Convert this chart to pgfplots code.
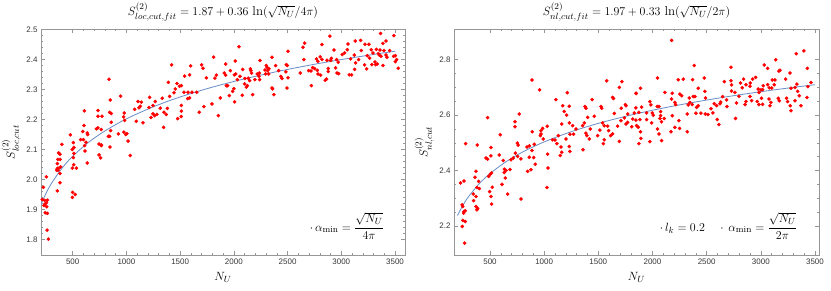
\documentclass[border=0pt]{standalone}
\usepackage{amsmath}
\usepackage{pgfplots}
\pgfplotsset{compat=1.18}
\usepackage{fontspec}
\setsansfont{Liberation Sans}
\definecolor{fitblue}{RGB}{110,145,200}
\definecolor{framegray}{RGB}{150,150,150}
\definecolor{ticklab}{RGB}{55,55,55}
\pgfplotsset{
  mmastyle/.style={
    scale only axis, width=364bp, height=226bp,
    axis line style={framegray, line width=0.6bp},
    tick style={framegray, line width=0.5bp},
    major tick length=4bp, minor tick length=2.2bp,
    tick align=inside,
    xtick pos=both, ytick pos=both,
    minor x tick num=4,
    tick label style={font=\sffamily\fontsize{8}{9}\selectfont, text=ticklab},
    /pgf/number format/assume math mode=true,
    /pgf/number format/1000 sep={},
    yticklabel style={/pgf/number format/fixed, /pgf/number format/fixed zerofill, /pgf/number format/precision=1},
    title style={at={(axis description cs:0.5,1.033)}, anchor=base, yshift=0pt, font=\fontsize{13}{15}\selectfont},
    xlabel style={at={(axis description cs:0.5,-0.097)}, anchor=center, font=\fontsize{13}{15}\selectfont},
    ylabel style={at={(axis description cs:-0.082,0.5)}, anchor=center, font=\fontsize{13}{15}\selectfont},
    clip=true,
  },
  pts/.style={only marks, mark=*, mark size=1.6bp, color=red, mark options={draw=red, fill=red}},
  fit/.style={no marks, color=fitblue, line width=0.85bp, smooth},
}
\begin{document}
\begin{tikzpicture}
\useasboundingbox (0,0) rectangle (831bp,291bp);
% ---------------- left ----------------
\begin{axis}[mmastyle,
  at={(41bp,36bp)}, anchor=south west,
  xmin=205, xmax=3593, ymin=1.748, ymax=2.502,
  xtick={500,1000,...,3500},
  ytick={1.8,1.9,2.0,2.1,2.2,2.3,2.4,2.5},
  minor y tick num=4,
  title={$S^{(2)}_{loc,cut,fit}=1.87+0.36\,\ln(\sqrt{N_U}/4\pi)$},
  xlabel={$N_U$},
  ylabel={$S^{(2)}_{loc,cut}$},
]
\addplot[pts] table {
227 1.974
255 2.009
217 1.933
239 1.930
264 1.931
255 1.922
239 1.917
233 1.913
258 1.909
245 1.889
264 1.887
261 1.831
273 1.801
357 1.962
382 1.989
363 2.031
351 2.031
382 2.020
357 2.053
357 2.037
369 2.037
388 2.042
363 2.067
382 2.067
369 2.089
382 2.084
400 2.117
497 2.038
534 2.038
509 2.049
506 2.073
512 2.087
497 2.100
512 2.107
506 2.123
500 1.957
524 1.950
497 1.940
636 2.055
611 2.113
614 2.095
624 2.124
745 2.118
766 2.113
769 2.115
745 2.082
760 2.072
847 2.108
1015 2.128
1036 2.080
1812 2.408
1421 2.382
1598 2.379
1700 2.382
1713 2.371
838 2.334
1542 2.345
1588 2.349
1744 2.339
1824 2.338
1837 2.348
1390 2.324
1471 2.320
1495 2.311
1511 2.313
1455 2.302
1536 2.291
1573 2.291
1610 2.291
1654 2.291
1588 2.272
1570 2.270
1443 2.289
1402 2.277
1334 2.271
1315 2.238
1269 2.260
1216 2.274
1247 2.247
1210 2.240
1108 2.260
1139 2.258
1129 2.244
946 2.278
850 2.265
844 2.224
859 2.220
859 2.191
735 2.230
735 2.211
773 2.211
980 2.222
974 2.209
983 2.197
1077 2.234
1117 2.239
1092 2.194
1154 2.189
1229 2.207
1263 2.213
1247 2.219
1284 2.217
1350 2.224
1371 2.217
1381 2.237
1346 2.174
1477 2.203
1511 2.210
1511 2.228
1511 2.247
1678 2.224
1722 2.243
1796 2.252
1855 2.213
1874 2.272
605 2.180
636 2.155
639 2.150
599 2.133
574 2.133
478 2.149
593 2.160
735 2.172
720 2.169
766 2.167
853 2.163
832 2.144
844 2.144
925 2.152
977 2.158
993 2.150
1005 2.153
609 2.229
3366 2.487
3490 2.480
2894 2.478
2048 2.443
2659 2.455
2643 2.441
3416 2.462
3388 2.454
3130 2.462
3180 2.464
3062 2.452
3056 2.433
2820 2.450
2932 2.432
3031 2.422
3009 2.417
3220 2.451
3257 2.451
3279 2.433
3295 2.422
3326 2.434
3360 2.432
3397 2.430
3450 2.430
3354 2.415
3345 2.420
3186 2.430
3121 2.415
3087 2.402
3161 2.400
3242 2.413
3264 2.405
3313 2.392
3319 2.383
3335 2.385
3285 2.383
3236 2.369
3217 2.382
3133 2.389
3124 2.367
3096 2.349
3074 2.349
3369 2.411
3416 2.415
3425 2.408
3487 2.411
3503 2.413
3515 2.400
3503 2.393
3530 2.371
3388 2.380
2956 2.400
2972 2.391
2907 2.404
2901 2.397
2867 2.398
2804 2.409
2820 2.400
2770 2.402
2783 2.394
2718 2.362
2733 2.373
2752 2.370
2777 2.364
2783 2.352
2808 2.348
2851 2.331
2863 2.335
2879 2.370
2879 2.360
2947 2.372
2960 2.355
2975 2.353
2652 2.400
2696 2.363
2721 2.313
2618 2.355
2504 2.428
2488 2.383
2497 2.380
2485 2.359
2504 2.339
2494 2.305
2438 2.344
2448 2.337
2355 2.408
2389 2.380
2417 2.363
2361 2.302
2373 2.283
2302 2.380
2310 2.374
2327 2.369
2315 2.363
2324 2.352
2290 2.365
2296 2.352
2243 2.397
2237 2.355
2218 2.352
2234 2.344
2240 2.333
2196 2.333
2153 2.369
2159 2.363
2165 2.355
2134 2.338
2147 2.330
2103 2.337
2100 2.319
2116 2.308
2125 2.313
2082 2.367
2013 2.395
2004 2.349
2017 2.352
2032 2.333
1967 2.363
2057 2.344
1924 2.385
1911 2.355
1924 2.348
1936 2.313
1930 2.313
1942 2.313
1958 2.280
1989 2.294
2001 2.303
2007 2.259
2079 2.281
2175 2.283
2355 2.305
};
\addplot[fit] table {
205 1.9169
250 1.9527
300 1.9855
400 2.0373
500 2.0774
650 2.1247
800 2.1620
1000 2.2022
1250 2.2424
1500 2.2752
1800 2.3080
2100 2.3357
2400 2.3598
2700 2.3810
3000 2.4000
3300 2.4171
3500 2.4277
};
\node[font=\fontsize{13}{15}\selectfont] at (rel axis cs:0.84,0.128) {$\cdot\,\alpha_{\min}=\dfrac{\sqrt{N_U}}{4\pi}$};
\end{axis}
% ---------------- right ----------------
\begin{axis}[mmastyle,
  at={(454bp,36bp)}, anchor=south west, width=365bp,
  xmin=168, xmax=3537, ymin=2.095, ymax=2.911,
  xtick={500,1000,...,3500},
  ytick={2.2,2.4,2.6,2.8},
  minor y tick num=3,
  title={$S^{(2)}_{nl,cut,fit}=1.97+0.33\,\ln(\sqrt{N_U}/2\pi)$},
  xlabel={$N_U$},
  ylabel={$S^{(2)}_{nl,cut}$},
]
\addplot[pts] table {
275 2.497
383 2.492
229 2.355
260 2.362
242 2.276
248 2.270
260 2.252
272 2.255
257 2.246
251 2.220
272 2.216
245 2.198
266 2.138
371 2.397
362 2.376
395 2.361
380 2.339
402 2.335
346 2.315
371 2.306
349 2.291
371 2.270
386 2.263
380 2.258
463 2.445
478 2.441
509 2.453
509 2.483
586 2.456
488 2.379
503 2.387
515 2.391
497 2.324
509 2.306
521 2.340
515 2.279
611 2.350
623 2.436
632 2.405
648 2.400
632 2.393
642 2.373
663 2.315
685 2.404
694 2.439
715 2.445
734 2.463
755 2.451
786 2.442
752 2.499
760 2.492
786 2.297
842 2.485
863 2.489
888 2.472
863 2.448
903 2.447
848 2.397
878 2.403
918 2.423
909 2.495
1032 2.459
1035 2.409
1026 2.339
1078 2.511
1118 2.497
1155 2.485
1162 2.466
1149 2.454
1232 2.487
1238 2.469
1358 2.475
1546 2.497
1694 2.505
1875 2.497
888 2.727
958 2.691
478 2.591
771 2.604
731 2.576
731 2.558
595 2.529
891 2.540
971 2.544
986 2.552
971 2.532
965 2.526
1029 2.560
992 2.514
1109 2.656
1171 2.634
1214 2.681
1232 2.632
1186 2.613
1208 2.600
1162 2.568
1232 2.572
1131 2.526
1202 2.514
1238 2.531
1272 2.531
1100 2.510
1377 2.631
1386 2.625
1442 2.656
1402 2.592
1463 2.596
1371 2.572
1355 2.562
1386 2.535
1395 2.526
1426 2.550
1417 2.514
1494 2.526
1515 2.546
1540 2.572
1525 2.631
1531 2.625
1577 2.724
1632 2.664
1640 2.660
1648 2.606
1718 2.721
1694 2.700
1755 2.634
1750 2.638
1712 2.625
1771 2.604
1740 2.590
1755 2.568
1771 2.574
1709 2.580
1832 2.608
1817 2.586
1808 2.558
1848 2.679
1555 2.562
1586 2.560
1595 2.544
1614 2.526
1632 2.532
1678 2.560
1555 2.511
1294 2.550
1263 2.562
2177 2.870
3398 2.832
3327 2.822
2386 2.779
2724 2.773
3137 2.800
3032 2.781
3063 2.769
2047 2.734
2238 2.728
2284 2.730
2370 2.728
2478 2.734
2423 2.697
2663 2.721
2724 2.724
2730 2.709
2841 2.730
2924 2.730
2952 2.736
2863 2.710
2903 2.716
2900 2.704
2813 2.716
2829 2.699
2976 2.694
3001 2.691
2983 2.682
3016 2.692
3023 2.706
3063 2.710
3078 2.699
3100 2.698
3124 2.710
3106 2.727
3130 2.727
3167 2.759
3177 2.762
3229 2.730
3269 2.752
3278 2.697
3315 2.700
3333 2.712
3340 2.686
3355 2.670
3426 2.664
3435 2.703
3463 2.718
3429 2.769
3370 2.634
3272 2.634
3278 2.616
3315 2.652
3238 2.661
3247 2.649
3161 2.661
3170 2.652
3075 2.658
3093 2.646
3084 2.634
3007 2.661
3016 2.639
2967 2.649
2983 2.638
2915 2.652
2900 2.667
2863 2.649
2854 2.638
2776 2.644
2761 2.682
2798 2.668
2730 2.687
2767 2.588
2684 2.655
2687 2.631
2623 2.641
2630 2.647
2647 2.667
2570 2.641
2592 2.634
2540 2.623
2598 2.584
2613 2.566
2558 2.608
2512 2.602
2487 2.604
2401 2.607
2447 2.607
2407 2.628
2423 2.634
2340 2.662
2376 2.667
2392 2.667
2346 2.646
2367 2.638
2330 2.637
2321 2.604
2253 2.676
2269 2.670
2484 2.686
2490 2.662
2207 2.646
2213 2.638
2176 2.658
2183 2.598
2244 2.580
2207 2.556
2170 2.540
2250 2.552
2321 2.540
2115 2.682
2044 2.631
2060 2.631
2075 2.613
2075 2.598
2069 2.588
2084 2.576
2109 2.588
2047 2.550
2060 2.532
1976 2.649
1986 2.637
1998 2.608
2007 2.600
1992 2.572
1946 2.608
1946 2.584
1900 2.629
1890 2.697
1850 2.678
1847 2.626
1875 2.610
1884 2.584
1847 2.582
1853 2.562
1869 2.556
1890 2.540
1893 2.516
1976 2.504
2084 2.508
2183 2.679
};
\addplot[fit] table {
200 2.2377
250 2.2745
300 2.3046
400 2.3521
500 2.3889
650 2.4322
800 2.4665
1000 2.5033
1250 2.5401
1500 2.5702
1800 2.6003
2100 2.6257
2400 2.6477
2700 2.6672
3000 2.6846
3300 2.7003
3500 2.7100
};
\node[font=\fontsize{13}{15}\selectfont] at (rel axis cs:0.752,0.128) {$\cdot\,l_k=0.2\quad\cdot\,\alpha_{\min}=\dfrac{\sqrt{N_U}}{2\pi}$};
\end{axis}
\end{tikzpicture}
\end{document}
